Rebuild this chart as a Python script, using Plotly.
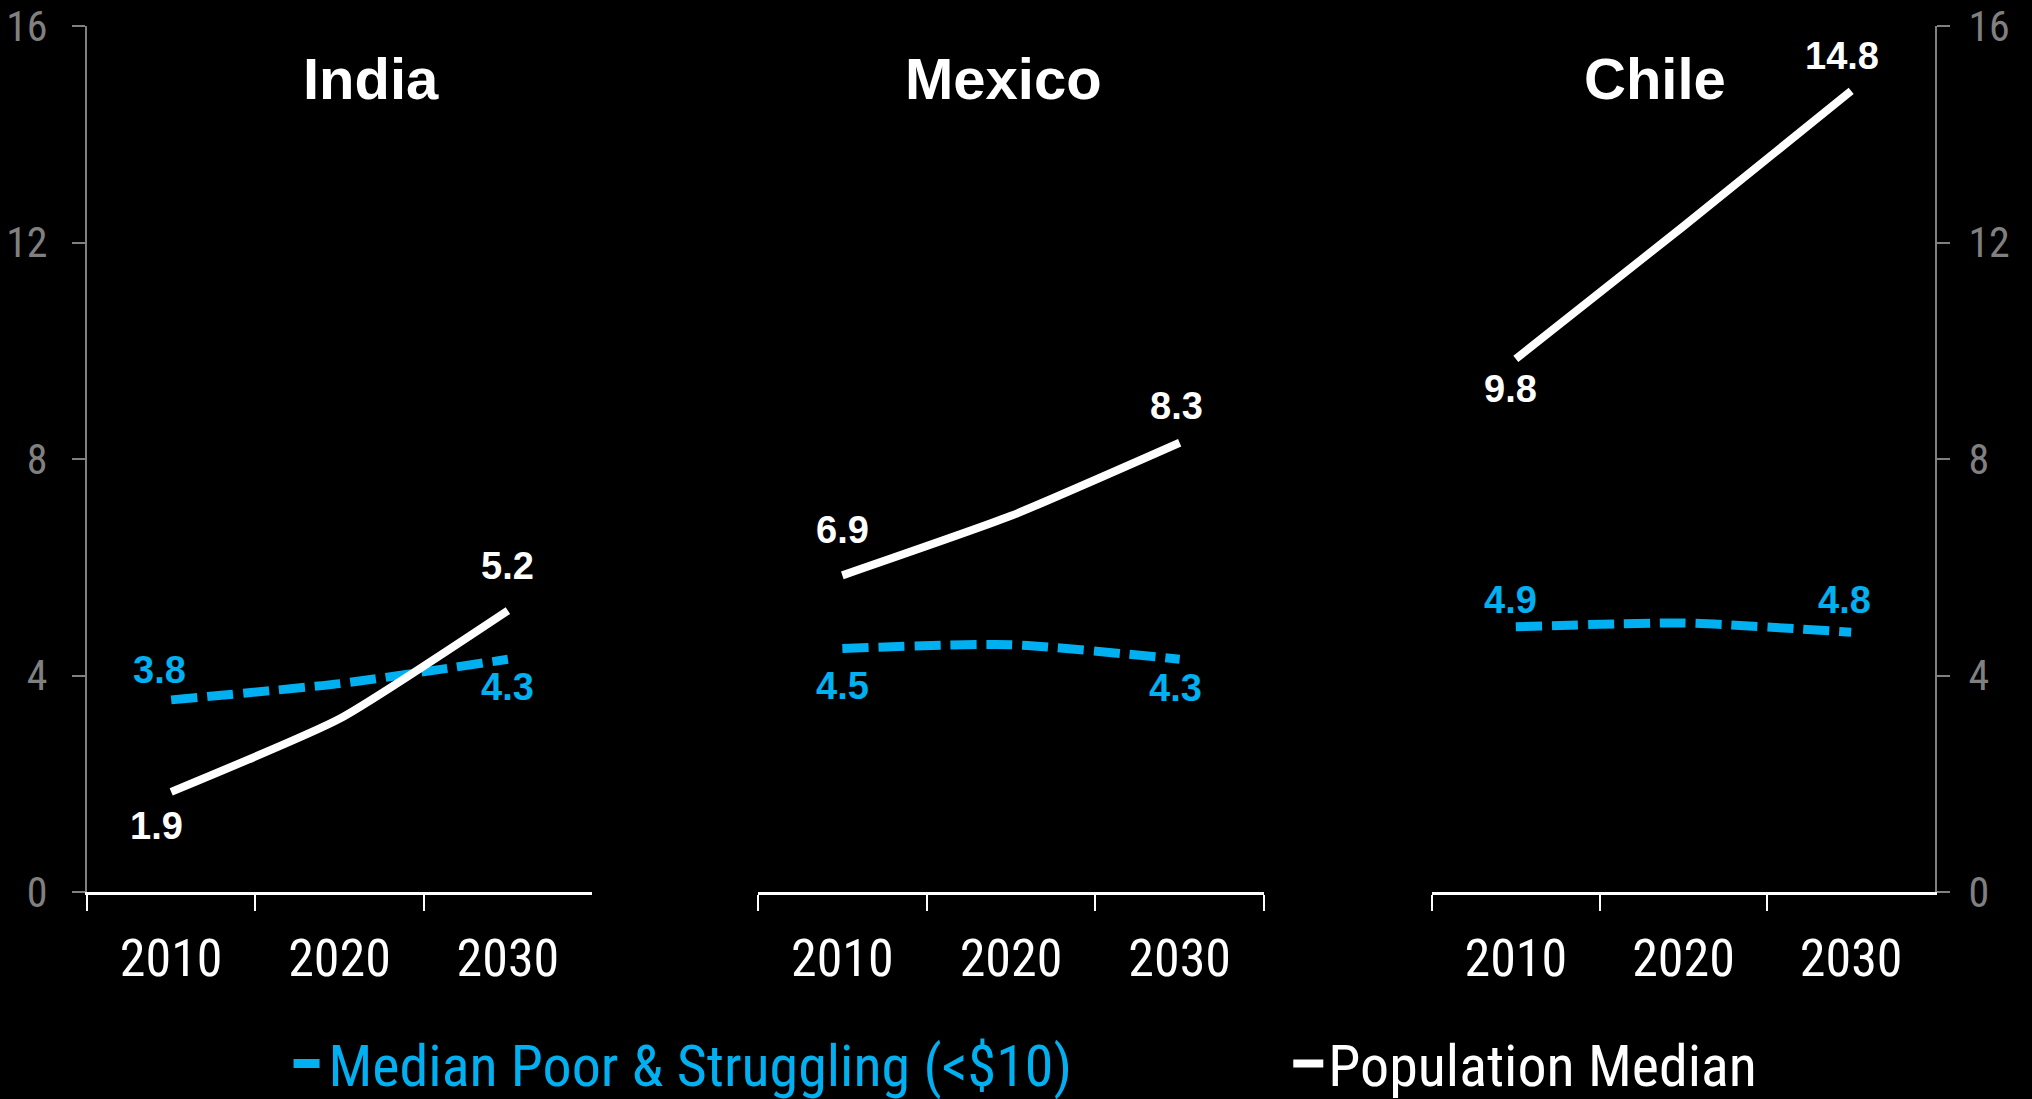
import plotly.graph_objects as go
from plotly.subplots import make_subplots

YEARS = ["2010", "2020", "2030"]
COUNTRIES = ["India", "Mexico", "Chile"]

# values as drawn on the chart
POP_MEDIAN = {
    "India": [1.85, 3.2, 5.2],
    "Mexico": [5.85, 6.95, 8.3],
    "Chile": [9.85, 12.3, 14.8],
}
POOR_MEDIAN = {
    "India": [3.55, 3.85, 4.3],
    "Mexico": [4.5, 4.57, 4.3],
    "Chile": [4.9, 4.97, 4.8],
}

# data labels printed on the chart (first and last year)
POP_LABELS = {
    "India": ["1.9", "5.2"],
    "Mexico": ["6.9", "8.3"],
    "Chile": ["9.8", "14.8"],
}
POOR_LABELS = {
    "India": ["3.8", "4.3"],
    "Mexico": ["4.5", "4.3"],
    "Chile": ["4.9", "4.8"],
}

Y_TICKS = [0, 4, 8, 12, 16]

BLUE = "#00B0F0"
GREY = "#808080"
NARROW = "Liberation Sans Narrow, Arial Narrow, Roboto Condensed, Roboto, sans-serif"
BOLD = "Liberation Sans, Arial, sans-serif"

POOR_NAME = "Median Poor & Struggling (<$10)"
POP_NAME = "Population Median"

fig = make_subplots(rows=1, cols=3)

for i, country in enumerate(COUNTRIES, start=1):
    fig.add_trace(
        go.Scatter(
            x=YEARS,
            y=POOR_MEDIAN[country],
            mode="lines",
            line=dict(color=BLUE, width=9, dash="26px,10px", shape="spline", smoothing=0.6),
            name=f"<span style='color:{BLUE}'>{POOR_NAME}</span>",
            legend="legend",
            showlegend=(i == 1),
            hoverinfo="skip",
        ),
        row=1,
        col=i,
    )
    fig.add_trace(
        go.Scatter(
            x=YEARS,
            y=POP_MEDIAN[country],
            mode="lines",
            line=dict(color="white", width=8, shape="spline", smoothing=0.5),
            name=POP_NAME,
            legend="legend2",
            showlegend=(i == 1),
            hoverinfo="skip",
        ),
        row=1,
        col=i,
    )

# label offsets in pixels (dx, dy) for first / last year, per country
pop_offsets = {
    "India": [(-15, -34), (0, 45)],
    "Mexico": [(0, 45), (-3, 37)],
    "Chile": [(-5, -30), (-9, 35)],
}
poor_offsets = {
    "India": [(-12, 30), (0, -28)],
    "Mexico": [(0, -38), (-4, -29)],
    "Chile": [(-5, 27), (-7, 32)],
}

for i, country in enumerate(COUNTRIES, start=1):
    xref = "x" if i == 1 else f"x{i}"
    yref = "y" if i == 1 else f"y{i}"
    for k, idx in enumerate([0, 2]):
        dx, dy = pop_offsets[country][k]
        fig.add_annotation(
            x=idx, y=POP_MEDIAN[country][idx], xref=xref, yref=yref,
            text=f"<b>{POP_LABELS[country][k]}</b>", showarrow=False,
            xshift=dx, yshift=dy,
            font=dict(family=BOLD, size=38, color="white"),
        )
        dx, dy = poor_offsets[country][k]
        fig.add_annotation(
            x=idx, y=POOR_MEDIAN[country][idx], xref=xref, yref=yref,
            text=f"<b>{POOR_LABELS[country][k]}</b>", showarrow=False,
            xshift=dx, yshift=dy,
            font=dict(family=BOLD, size=38, color=BLUE),
        )

# panel titles
for country, xpos in zip(COUNTRIES, [0.1537, 0.4962, 0.8485]):
    fig.add_annotation(
        x=xpos, y=0.9388, xref="paper", yref="paper",
        text=f"<b>{country}</b>", showarrow=False,
        xanchor="center", yanchor="middle",
        font=dict(family=BOLD, size=58, color="white"),
    )

domains = [[0, 0.2733], [0.3631, 0.6369], [0.7278, 1.0]]
for i, dom in enumerate(domains, start=1):
    fig.update_xaxes(
        domain=dom,
        type="category",
        range=[-0.5, 2.5],
        showline=True, linecolor="white", linewidth=3,
        ticks="outside", tickson="boundaries", ticklen=16,
        tickcolor="white", tickwidth=2,
        tickfont=dict(family=NARROW, size=52, color="white"),
        ticklabelstandoff=19,
        showgrid=False, zeroline=False,
        row=1, col=i,
    )

y_common = dict(
    range=[0, 16],
    tickvals=Y_TICKS,
    showline=True, linecolor=GREY, linewidth=2,
    ticks="outside", ticklen=13, tickcolor=GREY, tickwidth=2,
    tickfont=dict(family=NARROW, size=42, color=GREY),
    showgrid=False, zeroline=False,
)
fig.update_yaxes(**y_common, side="left", ticklabelstandoff=16, row=1, col=1)
fig.update_yaxes(range=[0, 16], visible=False, showgrid=False, zeroline=False, row=1, col=2)
fig.update_yaxes(**y_common, side="right", ticklabelstandoff=10, row=1, col=3)

legend_common = dict(
    orientation="h",
    xref="container", yref="container",
    xanchor="left", yanchor="middle",
    y=0.032,
    font=dict(family=NARROW, size=58, color="white"),
    bgcolor="rgba(0,0,0,0)",
    itemclick=False, itemdoubleclick=False,
)

fig.update_layout(
    width=2032,
    height=1099,
    paper_bgcolor="black",
    plot_bgcolor="black",
    margin=dict(l=87, r=97, t=26, b=207, autoexpand=False),
    showlegend=True,
    legend=dict(**legend_common, x=0.142),
    legend2=dict(**legend_common, x=0.634),
)

# drop the default page margin so the figure sits at the window's corner
fig.write_html(
    "out.html",
    config={"displayModeBar": False},
    post_script="document.body.style.margin='0';document.body.style.background='black';",
)
